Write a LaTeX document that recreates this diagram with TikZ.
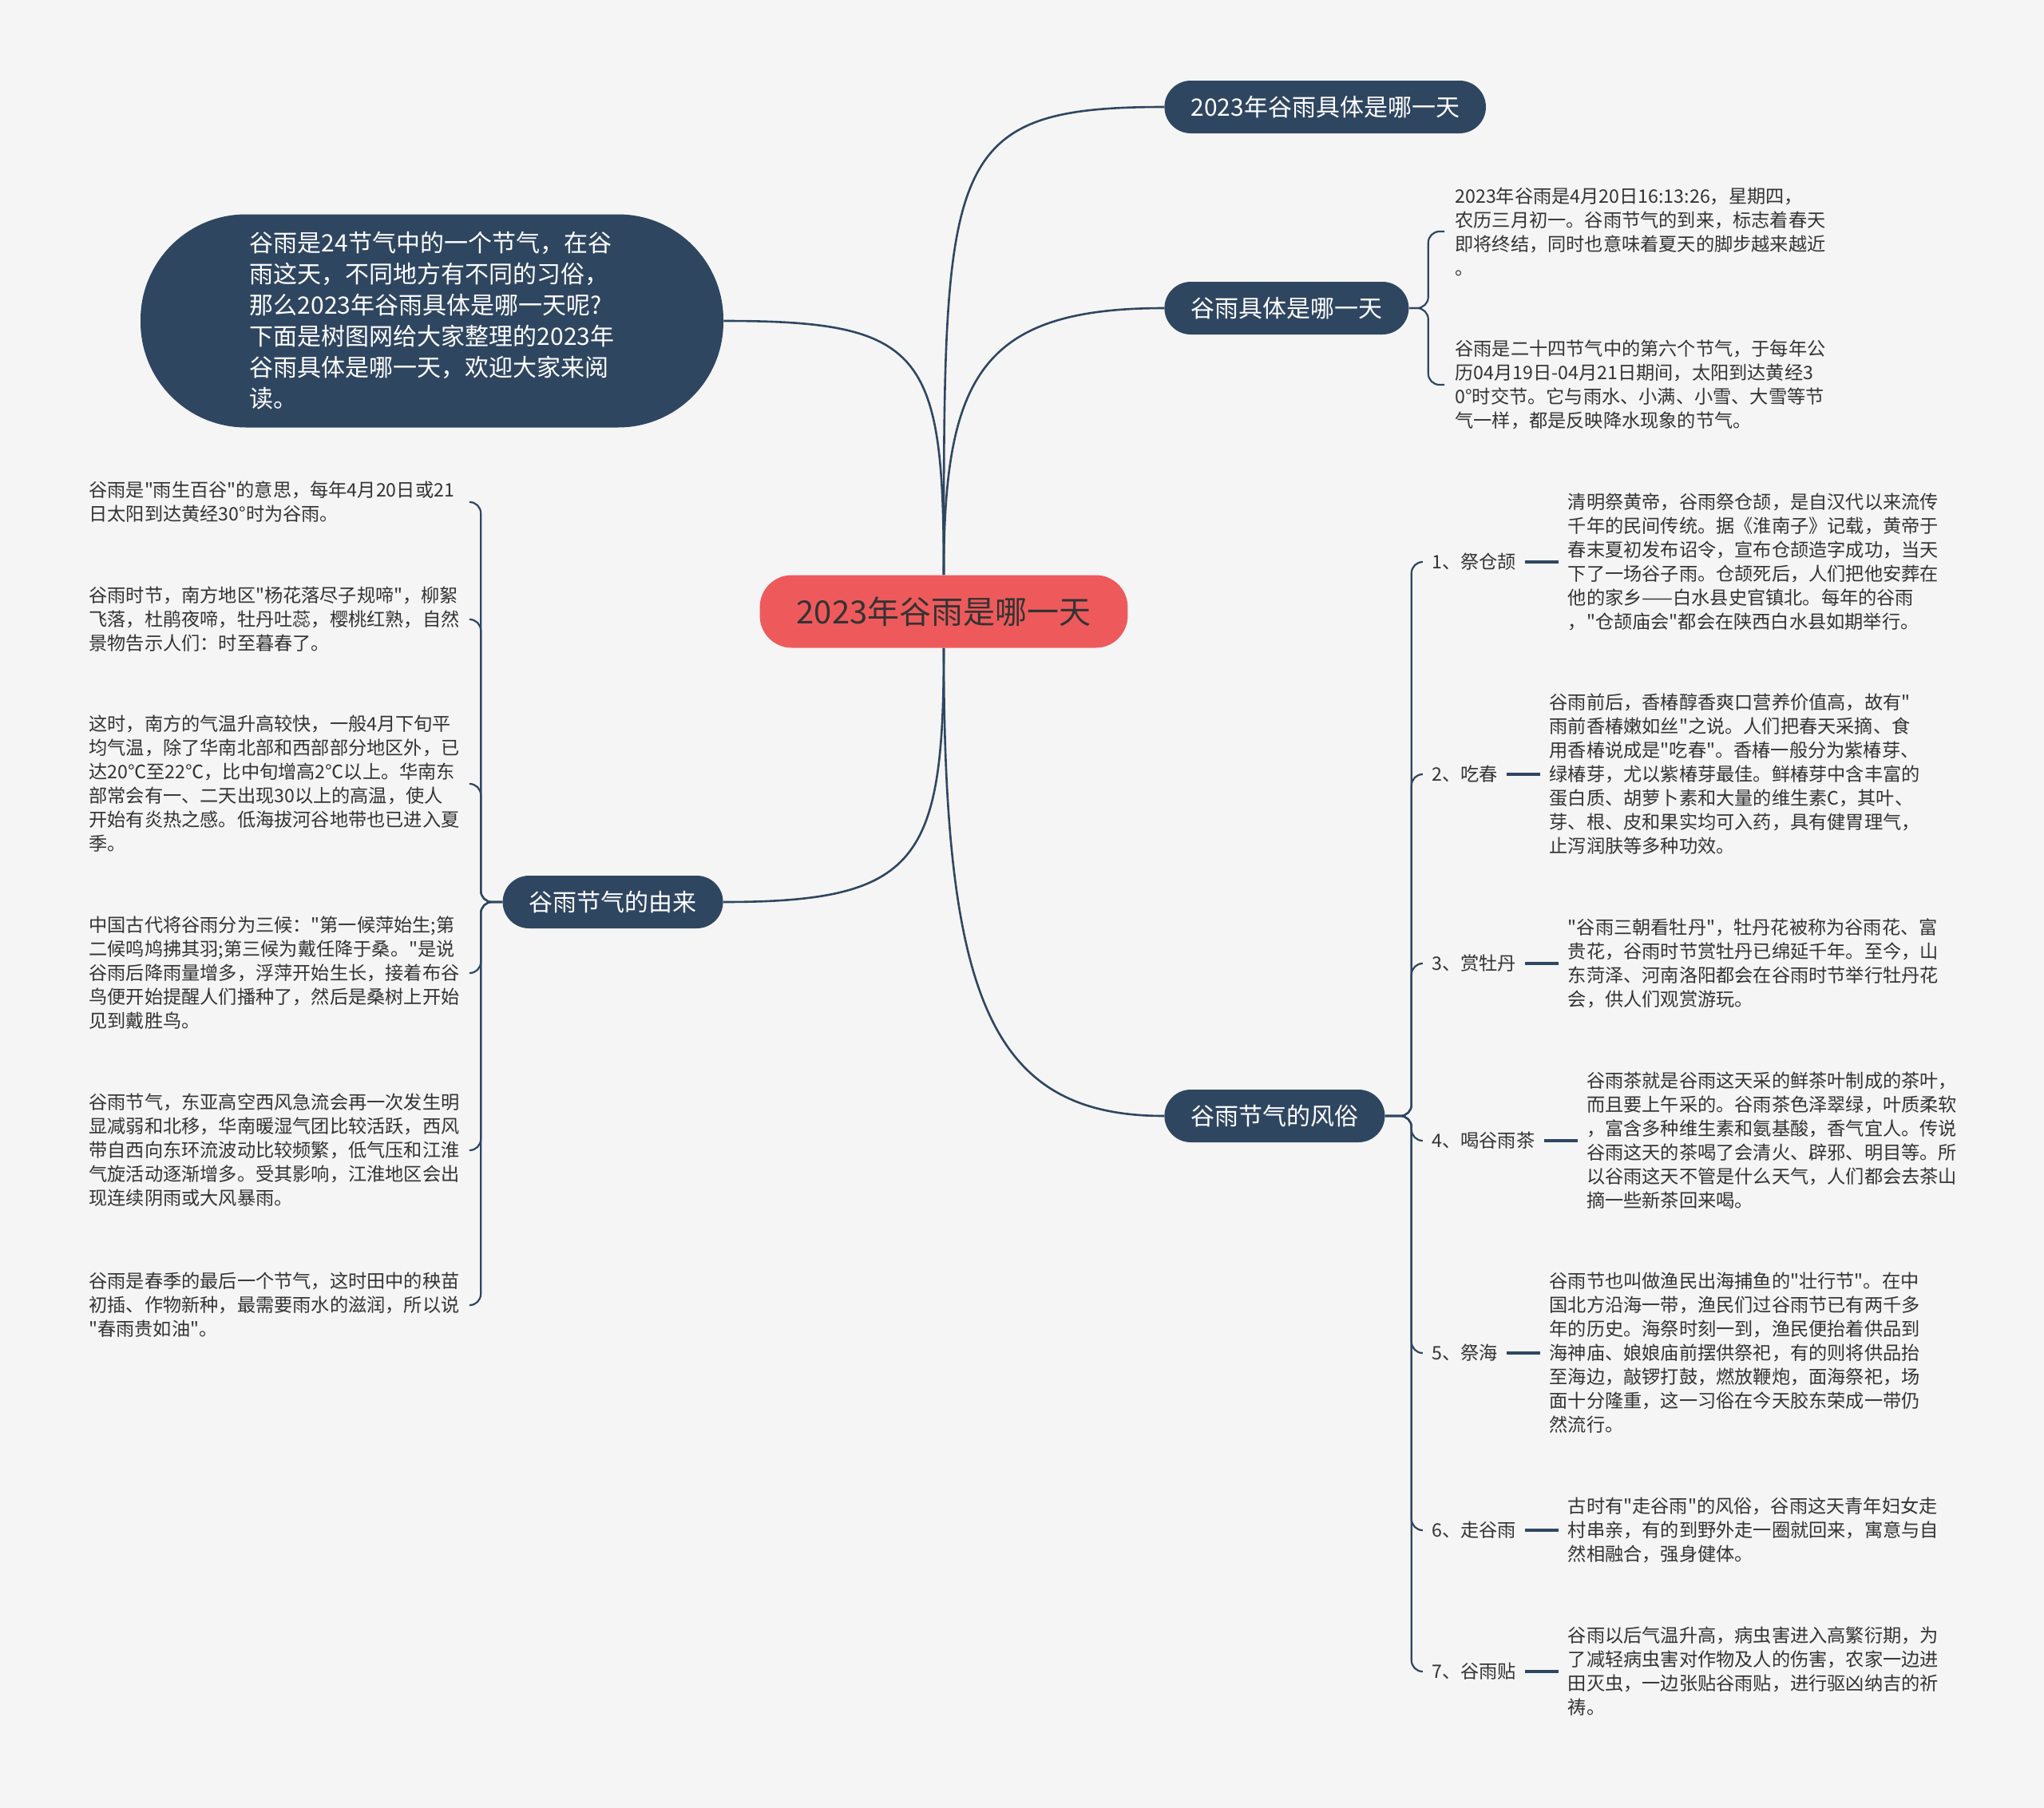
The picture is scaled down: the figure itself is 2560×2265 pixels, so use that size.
\documentclass[tikz,border=0pt]{standalone}
\usepackage{fontspec}
\setmainfont{Noto Sans CJK SC}[Ligatures=TeXOff]
\usepackage{xcolor}
\usepackage{tikz}
\usetikzlibrary{positioning}
\definecolor{bgc}{HTML}{F5F5F5}
\definecolor{navy}{HTML}{2F4661}
\definecolor{redc}{HTML}{EE5A5B}
\definecolor{txt}{HTML}{333333}

\begin{document}
\begin{tikzpicture}[
  x=0.5pt, y=-0.5pt,
  every node/.style={font=\fontsize{11.6}{15}\selectfont, text=txt},
  rootnode/.style={fill=redc, rounded corners=20pt, inner xsep=23pt, minimum height=45.5pt, font=\fontsize{20}{24}\selectfont},
  branchnode/.style={fill=navy, text=white, rounded corners=16.5pt, inner xsep=16.5pt, minimum height=33pt, font=\fontsize{15}{18}\selectfont},
  intronode/.style={fill=navy, text=white, rounded corners=66pt, minimum width=365pt, minimum height=133.5pt, align=left, font=\fontsize{15}{19.5}\selectfont},
  leafnode/.style={inner sep=0pt, align=left},
  lefttext/.style={leafnode, anchor=west, text width=232pt},
  tagnode/.style={inner sep=0pt, anchor=west},
  link/.style={draw=navy, line width=1.3pt},
  hookline/.style={draw=navy, line width=1.1pt, rounded corners=7pt},
  tagline/.style={draw=navy, line width=1.6pt}
]
\fill[bgc] (0,0) rectangle (2560,2265);

\node[rootnode] (c) at (1182,766) {2023年谷雨是哪一天};

\node[branchnode, anchor=west] (b1) at (1458,134) {2023年谷雨具体是哪一天};
\node[branchnode, anchor=west] (b2) at (1458,386) {谷雨具体是哪一天};
\node[branchnode, anchor=west] (b3) at (1458,1398) {谷雨节气的风俗};
\node[branchnode, anchor=east] (b4) at (906,1130) {谷雨节气的由来};
\node[intronode] (intro) at (541,402) {谷雨是24节气中的一个节气，在谷\\雨这天，不同地方有不同的习俗，\\那么2023年谷雨具体是哪一天呢?\\下面是树图网给大家整理的2023年\\谷雨具体是哪一天，欢迎大家来阅\\读。};

\draw[link] (c.north) .. controls +(0,-520) and +(-276,0) .. (b1.west);
\draw[link] (c.north) .. controls +(0,-250) and +(-228,0) .. (b2.west);
\draw[link] (c.north) .. controls +(0,-280) and +(250,0) .. (intro.east);
\draw[link] (c.south) .. controls +(0,438) and +(-218,0) .. (b3.west);
\draw[link] (c.south) .. controls +(0,268) and +(244,0) .. (b4.east);

% 具体
\node[leafnode, anchor=west] (r1) at (1822,290) {2023年谷雨是4月20日16:13:26，星期四，\\农历三月初一。谷雨节气的到来，标志着春天\\即将终结，同时也意味着夏天的脚步越来越近\\。};
\node[leafnode, anchor=west] (r2) at (1822,482) {谷雨是二十四节气中的第六个节气，于每年公\\历04月19日-04月21日期间，太阳到达黄经3\\0°时交节。它与雨水、小满、小雪、大雪等节\\气一样，都是反映降水现象的节气。};
\path (b2.east) ++(24,0) coordinate (k2);
\foreach \i in {1,2}
  \draw[hookline] (b2.east) -- (k2) |- ([xshift=-6.5pt]r\i.west);

% 风俗
\node[tagnode] (t1) at (1793,704) {1、祭仓颉};
\node[leafnode, right=32pt of t1] (s1) {清明祭黄帝，谷雨祭仓颉，是自汉代以来流传\\千年的民间传统。据《淮南子》记载，黄帝于\\春末夏初发布诏令，宣布仓颉造字成功，当天\\下了一场谷子雨。仓颉死后，人们把他安葬在\\他的家乡——白水县史官镇北。每年的谷雨\\，"仓颉庙会"都会在陕西白水县如期举行。};
\node[tagnode] (t2) at (1793,970) {2、吃春};
\node[leafnode, right=32pt of t2] (s2) {谷雨前后，香椿醇香爽口营养价值高，故有"\\雨前香椿嫩如丝"之说。人们把春天采摘、食\\用香椿说成是"吃春"。香椿一般分为紫椿芽、\\绿椿芽，尤以紫椿芽最佳。鲜椿芽中含丰富的\\蛋白质、胡萝卜素和大量的维生素C，其叶、\\芽、根、皮和果实均可入药，具有健胃理气，\\止泻润肤等多种功效。};
\node[tagnode] (t3) at (1793,1207) {3、赏牡丹};
\node[leafnode, right=32pt of t3] (s3) {"谷雨三朝看牡丹"，牡丹花被称为谷雨花、富\\贵花，谷雨时节赏牡丹已绵延千年。至今，山\\东菏泽、河南洛阳都会在谷雨时节举行牡丹花\\会，供人们观赏游玩。};
\node[tagnode] (t4) at (1793,1429) {4、喝谷雨茶};
\node[leafnode, right=32pt of t4] (s4) {谷雨茶就是谷雨这天采的鲜茶叶制成的茶叶，\\而且要上午采的。谷雨茶色泽翠绿，叶质柔软\\，富含多种维生素和氨基酸，香气宜人。传说\\谷雨这天的茶喝了会清火、辟邪、明目等。所\\以谷雨这天不管是什么天气，人们都会去茶山\\摘一些新茶回来喝。};
\node[tagnode] (t5) at (1793,1695) {5、祭海};
\node[leafnode, right=32pt of t5] (s5) {谷雨节也叫做渔民出海捕鱼的"壮行节"。在中\\国北方沿海一带，渔民们过谷雨节已有两千多\\年的历史。海祭时刻一到，渔民便抬着供品到\\海神庙、娘娘庙前摆供祭祀，有的则将供品抬\\至海边，敲锣打鼓，燃放鞭炮，面海祭祀，场\\面十分隆重，这一习俗在今天胶东荣成一带仍\\然流行。};
\node[tagnode] (t6) at (1793,1917) {6、走谷雨};
\node[leafnode, right=32pt of t6] (s6) {古时有"走谷雨"的风俗，谷雨这天青年妇女走\\村串亲，有的到野外走一圈就回来，寓意与自\\然相融合，强身健体。};
\node[tagnode] (t7) at (1793,2094) {7、谷雨贴};
\node[leafnode, right=32pt of t7] (s7) {谷雨以后气温升高，病虫害进入高繁衍期，为\\了减轻病虫害对作物及人的伤害，农家一边进\\田灭虫，一边张贴谷雨贴，进行驱凶纳吉的祈\\祷。};
\path (b3.east) ++(33,0) coordinate (k3);
\foreach \i in {1,...,7} {
  \draw[hookline] (b3.east) -- (k3) |- ([xshift=-6.5pt]t\i.west);
  \draw[tagline] ([xshift=5.5pt]t\i.east) -- ([xshift=-5.5pt]s\i.west);
}

% 由来
\node[lefttext] (l1) at (111,629) {谷雨是"雨生百谷"的意思，每年4月20日或21\\日太阳到达黄经30°时为谷雨。};
\node[lefttext] (l2) at (111,776) {谷雨时节，南方地区"杨花落尽子规啼"，柳絮\\飞落，杜鹃夜啼，牡丹吐蕊，樱桃红熟，自然\\景物告示人们：时至暮春了。};
\node[lefttext] (l3) at (111,982) {这时，南方的气温升高较快，一般4月下旬平\\均气温，除了华南北部和西部部分地区外，已\\达20℃至22℃，比中旬增高2℃以上。华南东\\部常会有一、二天出现30以上的高温，使人\\开始有炎热之感。低海拔河谷地带也已进入夏\\季。};
\node[lefttext] (l4) at (111,1219) {中国古代将谷雨分为三候："第一候萍始生;第\\二候鸣鸠拂其羽;第三候为戴任降于桑。"是说\\谷雨后降雨量增多，浮萍开始生长，接着布谷\\鸟便开始提醒人们播种了，然后是桑树上开始\\见到戴胜鸟。};
\node[lefttext] (l5) at (111,1441) {谷雨节气，东亚高空西风急流会再一次发生明\\显减弱和北移，华南暖湿气团比较活跃，西风\\带自西向东环流波动比较频繁，低气压和江淮\\气旋活动逐渐增多。受其影响，江淮地区会出\\现连续阴雨或大风暴雨。};
\node[lefttext] (l6) at (111,1635) {谷雨是春季的最后一个节气，这时田中的秧苗\\初插、作物新种，最需要雨水的滋润，所以说\\"春雨贵如油"。};
\path (b4.west) ++(-27,0) coordinate (k4);
\foreach \i in {1,...,6}
  \draw[hookline] (b4.west) -- (k4) |- ([xshift=6pt]l\i.east);
\end{tikzpicture}
\end{document}
